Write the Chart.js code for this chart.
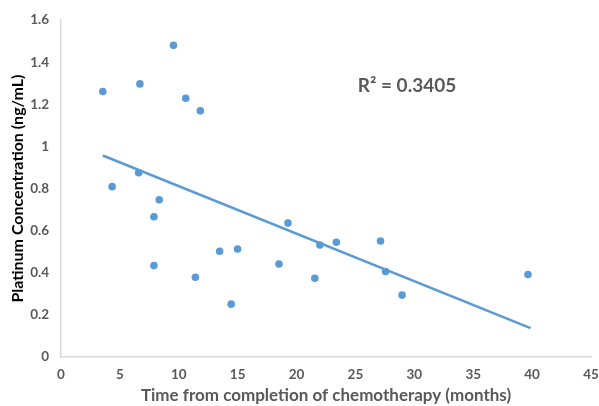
<!DOCTYPE html>
<html>
<head>
<meta charset="utf-8">
<script src="https://cdn.jsdelivr.net/npm/chart.js@4"></script>
<style>
  html, body { margin: 0; padding: 0; background: #fff; }
  #wrap { width: 599px; height: 406px; }
</style>
</head>
<body>
<div id="wrap"><canvas id="platChart" width="599" height="406"></canvas></div>
<script>
// months since chemotherapy vs platinum (ng/mL)
const months = [3.55, 6.70, 9.55, 10.59, 11.83, 4.34, 6.59, 8.34, 7.89, 7.89, 11.41, 13.47,
    14.99, 14.45, 18.51, 19.27, 21.98, 23.38, 21.55, 27.13, 27.56, 28.96, 39.65];
const platinum = [1.261, 1.297, 1.480, 1.229, 1.169, 0.809, 0.875, 0.747, 0.666, 0.434, 0.379, 0.502,
    0.513, 0.251, 0.442, 0.636, 0.532, 0.545, 0.374, 0.551, 0.406, 0.294, 0.392];

// linear trend line ends
const trendX = [3.55, 39.87];
const trendY = [0.957, 0.137];

const xTicks = [0, 5, 10, 15, 20, 25, 30, 35, 40, 45];
const yTicks = [0, 0.2, 0.4, 0.6, 0.8, 1, 1.2, 1.4, 1.6];
const r2Text = "R\u00B2 = 0.3405";
const r2Pos = [25.2, 1.286];

const blue = "#5B9BD5";
const grey = "#595959";
const fontFam = "Lato, 'Open Sans', sans-serif";

const r2Label = {
    id: "r2Label",
    afterDatasetsDraw(chart) {
        const ctx = chart.ctx;
        const x = chart.scales.x.getPixelForValue(r2Pos[0]);
        const y = chart.scales.y.getPixelForValue(r2Pos[1]);
        ctx.save();
        ctx.font = "bold 19px " + fontFam;
        ctx.fillStyle = grey;
        ctx.textAlign = "left";
        ctx.textBaseline = "middle";
        ctx.fillText(r2Text, x, y);
        ctx.restore();
    }
};

const ctx = document.getElementById("platChart").getContext("2d");
const platChart = new Chart(ctx, {
    type: "scatter",
    data: {
        datasets: [{
            label: "Platinum",
            data: months.map((m, i) => ({x: m, y: platinum[i]})),
            backgroundColor: blue,
            borderColor: blue,
            pointRadius: 3.8,
            pointBorderWidth: 0,
            order: 1
        }, {
            label: "Trend",
            type: "line",
            data: trendX.map((t, i) => ({x: t, y: trendY[i]})),
            borderColor: blue,
            borderWidth: 2.5,
            pointRadius: 0,
            fill: false,
            order: 2
        }]
    },
    options: {
        responsive: false,
        animation: false,
        layout: { padding: { top: 20, right: 8, left: 0, bottom: 0 } },
        plugins: {
            legend: { display: false },
            tooltip: { enabled: false }
        },
        scales: {
            x: {
                type: "linear",
                min: 0,
                max: 45,
                afterBuildTicks: s => { s.ticks = xTicks.map(v => ({value: v})); },
                afterFit: s => { s.height = 49; s.paddingRight = 0; s.paddingLeft = 0; },
                grid: { display: false, drawTicks: false },
                border: { display: true, color: "#D9D9D9", width: 1.5 },
                ticks: {
                    color: grey,
                    padding: 10,
                    maxRotation: 0,
                    font: { family: fontFam, size: 13.5, weight: "bold" }
                },
                title: {
                    display: true,
                    text: "Time from completion of chemotherapy (months)",
                    color: grey,
                    padding: { top: 0, bottom: 0 },
                    font: { family: fontFam, size: 17, weight: "bold" }
                }
            },
            y: {
                min: 0,
                max: 1.6,
                afterBuildTicks: s => { s.ticks = yTicks.map(v => ({value: v})); },
                afterFit: s => { s.width = 61; },
                grid: { display: false, drawTicks: false },
                border: { display: true, color: "#D9D9D9", width: 1.5 },
                ticks: {
                    color: grey,
                    padding: 12,
                    callback: v => String(v),
                    font: { family: fontFam, size: 13.5, weight: "bold" }
                },
                title: {
                    display: true,
                    text: "Platinum Concentration (ng/mL)",
                    color: "#000",
                    padding: { top: 8, bottom: 0 },
                    font: { family: fontFam, size: 16, weight: "bold" }
                }
            }
        }
    },
    plugins: [r2Label]
});
</script>
</body>
</html>
